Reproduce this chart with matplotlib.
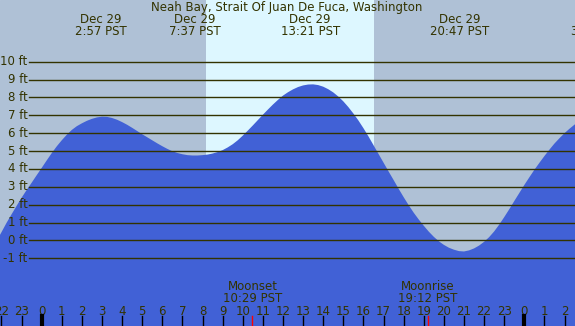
import matplotlib
matplotlib.use("Agg")
import matplotlib.pyplot as plt
import matplotlib.transforms as mtransforms

# ---- data (hours relative to Dec 29 00:00 PST, heights in ft, read every 15 min) ----
heights = [
    -0.05, 0.45, 0.97, 1.45, 1.92, 2.38, 2.81, 3.22, 3.64, 4.05, 4.47, 4.88,
    5.26, 5.60, 5.91, 6.18, 6.39, 6.55, 6.69, 6.80, 6.88, 6.92, 6.91, 6.85,
    6.75, 6.62, 6.47, 6.30, 6.12, 5.94, 5.77, 5.60, 5.43, 5.27, 5.12, 4.99,
    4.89, 4.82, 4.77, 4.75, 4.75, 4.77, 4.80, 4.86, 4.94, 5.05, 5.20, 5.38,
    5.60, 5.86, 6.14, 6.43, 6.73, 7.03, 7.32, 7.60, 7.86, 8.10, 8.29, 8.45,
    8.58, 8.67, 8.72, 8.73, 8.69, 8.60, 8.46, 8.28, 8.05, 7.78, 7.46, 7.10,
    6.71, 6.28, 5.82, 5.33, 4.84, 4.35, 3.86, 3.38, 2.89, 2.42, 1.97, 1.55,
    1.17, 0.82, 0.49, 0.20, -0.05, -0.25, -0.41, -0.52, -0.60, -0.62, -0.56, -0.45,
    -0.29, -0.08, 0.18, 0.50, 0.88, 1.30, 1.74, 2.20, 2.65, 3.10, 3.53, 3.95,
    4.34, 4.72, 5.08, 5.42, 5.72, 6.00, 6.25, 6.48, 6.68,
]
start_hour = -2.25
step_hours = 0.25
times = [start_hour + i * step_hours for i in range(len(heights))]

levels = [-1, 0, 1, 2, 3, 4, 5, 6, 7, 8, 9, 10]

event_times = [2.95, 7.617, 13.35, 20.783, 27.6]
event_dates = ["Dec 29", "Dec 29", "Dec 29", "Dec 29", "Dec 30"]
event_labels = ["2:57 PST", "7:37 PST", "13:21 PST", "20:47 PST", "3:36 PST"]

sunrise, sunset = 8.17, 16.52
moon_times = [10.483, 19.2]
moon_names = ["Moonset", "Moonrise"]
moon_labels = ["10:29 PST", "19:12 PST"]

hours = list(range(-2, 27))
title = "Neah Bay, Strait Of Juan De Fuca, Washington"

# ---- style ----
BG = "#afc1d6"
DAY = "#ddf7ff"
WATER = "#4161d6"
TXT = "#333300"
FS = 8.5

fig = plt.figure(figsize=(5.75, 3.26), dpi=100)
ax = fig.add_axes([0, 0, 1, 1])
ax.set_xlim(-2.07, 26.52)
ax.set_ylim(-4.79, 13.45)
ax.set_axis_off()
ax.add_patch(plt.Rectangle((0, 0), 1, 1, transform=ax.transAxes, color=BG, zorder=0))
ax.axvspan(sunrise, sunset, color=DAY, zorder=1, lw=0)

ax.fill_between(times, heights, -10, color=WATER, lw=0, zorder=2)

for lv in levels:
    ax.axhline(lv, xmin=29 / 575, xmax=1, color=TXT, lw=1.0, zorder=3)

trans_lbl = mtransforms.blended_transform_factory(ax.transAxes, ax.transData)
for lv in levels:
    ax.text(27.5 / 575, lv, f"{lv} ft", transform=trans_lbl, ha="right", va="center",
            fontsize=FS, color=TXT, zorder=4)

ax.text(286.5 / 575, 1 - 7 / 326, title, transform=ax.transAxes, ha="center",
        va="center", fontsize=FS, color=TXT, zorder=4)

trans_top = mtransforms.blended_transform_factory(ax.transData, ax.transAxes)
for t, d, l in zip(event_times, event_dates, event_labels):
    ax.text(t, 1 - 19.5 / 326, d, transform=trans_top, ha="center", va="center",
            fontsize=FS, color=TXT, zorder=4)
    ax.text(t, 1 - 31.5 / 326, l, transform=trans_top, ha="center", va="center",
            fontsize=FS, color=TXT, zorder=4)

for h in hours:
    ax.text(h, 14.5 / 326, str(h % 24), transform=trans_top, ha="center", va="center",
            fontsize=FS, color=TXT, zorder=4)
    lw = 3 if h % 24 == 0 else 1
    ax.axvline(h, ymin=0, ymax=10 / 326, color="black", lw=lw, zorder=4)

for t, n, l in zip(moon_times, moon_names, moon_labels):
    ax.axvline(t, ymin=0, ymax=10 / 326, color="red", lw=1, zorder=4)
    ax.text(t, 1 - 287 / 326, n, transform=trans_top, ha="center", va="center",
            fontsize=FS, color=TXT, zorder=4)
    ax.text(t, 1 - 299 / 326, l, transform=trans_top, ha="center", va="center",
            fontsize=FS, color=TXT, zorder=4)

fig.savefig("out.png", dpi=100)
